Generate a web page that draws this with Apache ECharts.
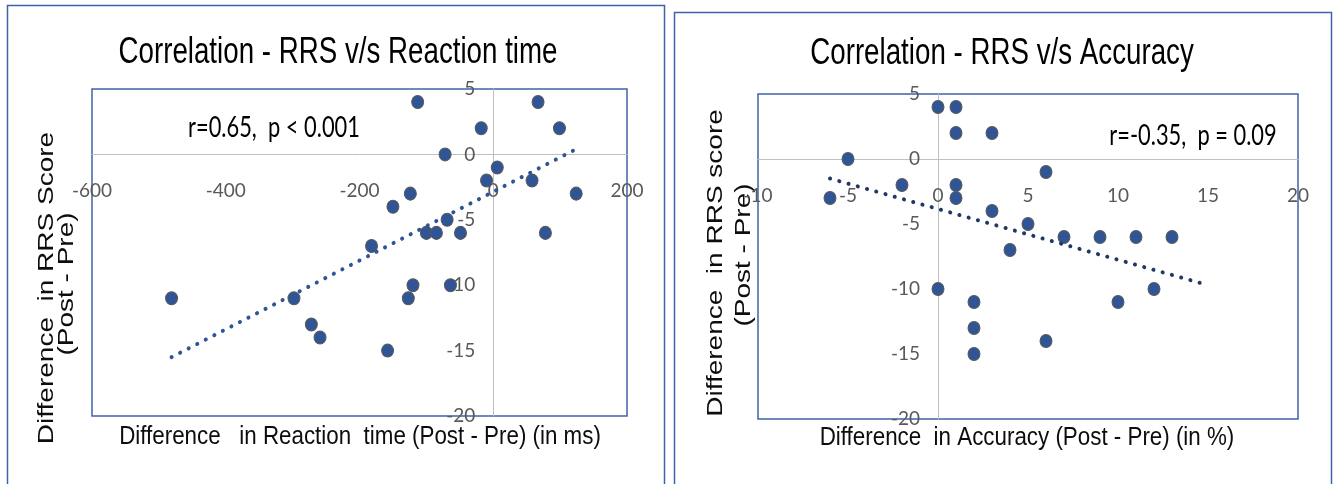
<!DOCTYPE html>
<html>
<head>
<meta charset="utf-8">
<script src="https://cdn.jsdelivr.net/npm/echarts@6/dist/echarts.min.js"></script>
<style>
  html, body { margin: 0; padding: 0; background: #ffffff; }
  #chart { width: 1335px; height: 484px; }
</style>
</head>
<body>
<div id="chart"></div>
<script>
// Reaction-time panel: change in reaction time (ms) vs change in RRS score
const rtDiff = [-481, -298, -272, -259, -182, -158, -150, -127, -124, -120, -113, -100, -85, -72, -69, -64, -49, -18, -10, 6, 58, 67, 78, 99, 124];
const rrsDiffRt = [-11, -11, -13, -14, -7, -15, -4, -11, -3, -10, 4, -6, -6, 0, -5, -10, -6, 2, -2, -1, -2, 4, -6, 2, -3];
const rtTrendX = [-481, 120];
const rtTrendY = [-15.5, 0.3];

// Accuracy panel: change in accuracy (%) vs change in RRS score
const accDiff = [0, 1, 1, 3, -5, 6, -2, 1, 1, -6, 3, 5, 4, 7, 9, 11, 13, 0, 2, 2, 2, 6, 10, 12];
const rrsDiffAcc = [4, 4, 2, 2, 0, -1, -2, -2, -3, -3, -4, -5, -7, -6, -6, -6, -6, -10, -11, -13, -15, -14, -11, -10];
const accTrendX = [-6, 15];
const accTrendY = [-1.5, -9.7];

// Axis ranges: [min, max, interval]
const rtXAxisRange = [-600, 200, 200];
const accXAxisRange = [-10, 20, 5];
const rrsAxisRange = [-20, 5, 5];

const titles = ['Correlation - RRS v/s Reaction time', 'Correlation - RRS v/s Accuracy'];
const xTitles = ['Difference   in Reaction  time (Post - Pre) (in ms)', 'Difference  in Accuracy (Post - Pre) (in %)'];
const yTitles = [['Difference  in RRS Score', '(Post - Pre)'], ['Difference  in RRS score', '(Post - Pre)']];
const statTexts = ['r=0.65,  p < 0.001', 'r=-0.35,  p = 0.09'];

const zip = (xs, ys) => xs.map((x, i) => [x, ys[i]]);

const BLUE = '#2F5597';
const FRAME = '#3F63A8';
const AXIS_GRAY = '#BFBFBF';
const LABEL_GRAY = '#595959';

// plot-area boxes
const grids = [
  { left: 92, top: 89, width: 535, height: 327 },
  { left: 758, top: 94, width: 540, height: 325 }
];

// distance from the grid's far edge to the zero line of a range
const zeroShift = (range, size) => -(0 - range[0]) / (range[1] - range[0]) * size;

function valueAxis(gridIndex, range, margin, offset) {
  return {
    gridIndex: gridIndex,
    type: 'value',
    min: range[0],
    max: range[1],
    interval: range[2],
    offset: offset,
    axisLine: { show: true, onZero: false, lineStyle: { color: AXIS_GRAY, width: 1 } },
    axisTick: { show: false },
    splitLine: { show: false },
    axisLabel: {
      color: LABEL_GRAY,
      fontFamily: 'Lato',
      fontSize: 19,
      lineHeight: 19,
      margin: margin,
      showMinLabel: true,
      showMaxLabel: true,
      hideOverlap: false
    }
  };
}

function scatterSeries(idx, xs, ys) {
  return {
    type: 'scatter',
    xAxisIndex: idx,
    yAxisIndex: idx,
    data: zip(xs, ys),
    symbol: 'circle',
    symbolSize: [12, 13],
    itemStyle: { color: BLUE, borderColor: '#595959', borderWidth: 1, opacity: 1 },
    z: 3,
    silent: true
  };
}

function trendSeries(idx, xs, ys, color) {
  return {
    type: 'line',
    xAxisIndex: idx,
    yAxisIndex: idx,
    data: zip(xs, ys),
    symbol: 'none',
    lineStyle: { color: color, width: 4, type: [0.1, 9.5], cap: 'round' },
    z: 4,
    silent: true
  };
}

function hText(x, y, text, font, size, color, scaleX) {
  return {
    type: 'text',
    x: x,
    y: y,
    scaleX: scaleX || 1,
    silent: true,
    style: {
      text: text,
      fontFamily: font,
      fontSize: size,
      fill: color,
      textAlign: 'center',
      textVerticalAlign: 'middle'
    }
  };
}

function vText(x, y, text) {
  return {
    type: 'text',
    x: x,
    y: y,
    rotation: Math.PI / 2,
    scaleY: 0.78,
    silent: true,
    style: {
      text: text,
      fontFamily: 'Liberation Sans',
      fontSize: 28,
      fill: '#0d0d0d',
      textAlign: 'center',
      textVerticalAlign: 'middle'
    }
  };
}

const chart = echarts.init(document.getElementById('chart'), null, { renderer: 'canvas' });

chart.setOption({
  animation: false,
  backgroundColor: '#ffffff',
  grid: grids.map(g => Object.assign({}, g, {
    show: true, borderColor: FRAME, borderWidth: 1.5, backgroundColor: 'transparent', outerBoundsMode: 'none'
  })),
  xAxis: [
    valueAxis(0, rtXAxisRange, 27, zeroShift(rrsAxisRange, grids[0].height)),
    valueAxis(1, accXAxisRange, 27, zeroShift(rrsAxisRange, grids[1].height))
  ],
  yAxis: [
    valueAxis(0, rrsAxisRange, 18, zeroShift(rtXAxisRange, grids[0].width)),
    valueAxis(1, rrsAxisRange, 18, zeroShift(accXAxisRange, grids[1].width))
  ],
  series: [
    scatterSeries(0, rtDiff, rrsDiffRt),
    trendSeries(0, rtTrendX, rtTrendY, BLUE),
    scatterSeries(1, accDiff, rrsDiffAcc),
    trendSeries(1, accTrendX, accTrendY, '#1F3864')
  ],
  graphic: [
    // panel frames
    { type: 'rect', silent: true, shape: { x: 7.5, y: 5.5, width: 657, height: 500 }, style: { fill: 'none', stroke: FRAME, lineWidth: 1.5 } },
    { type: 'rect', silent: true, shape: { x: 674.5, y: 12.5, width: 657, height: 500 }, style: { fill: 'none', stroke: FRAME, lineWidth: 1.5 } },
    // chart titles
    hText(338, 53, titles[0], 'Liberation Sans', 36, '#000000', 0.77),
    hText(1002, 54, titles[1], 'Liberation Sans', 36, '#000000', 0.77),
    // correlation statistics
    hText(274, 128, statTexts[0], 'Lato', 28, '#000000', 0.78),
    hText(1193, 136, statTexts[1], 'Lato', 28, '#000000', 0.78),
    // x axis titles
    hText(360, 437, xTitles[0], 'Liberation Sans', 26, '#0d0d0d', 0.86),
    hText(1027, 438, xTitles[1], 'Liberation Sans', 26, '#0d0d0d', 0.86),
    // y axis titles
    vText(47, 288, yTitles[0][0]),
    vText(67, 284, yTitles[0][1]),
    vText(716, 263, yTitles[1][0]),
    vText(744, 255, yTitles[1][1])
  ]
});
</script>
</body>
</html>
